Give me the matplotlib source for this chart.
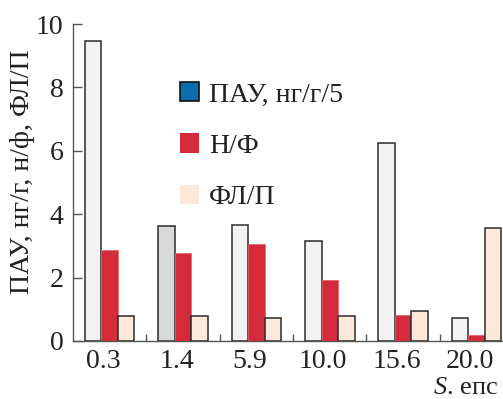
import matplotlib
matplotlib.use("Agg")
import numpy as np
import matplotlib.pyplot as plt
from matplotlib.patches import Patch

# === data ===
groups = ["0.3", "1.4", "5.9", "10.0", "15.6", "20.0"]
pau = [9.47, 3.63, 3.67, 3.15, 6.26, 0.74]      # ПАУ, нг/г/5
nf = [2.87, 2.77, 3.07, 1.91, 0.81, 0.19]       # Н/Ф
flp = [0.80, 0.80, 0.74, 0.80, 0.95, 3.57]      # ФЛ/П

plt.rcParams["font.family"] = ["Liberation Serif", "DejaVu Serif"]
plt.rcParams["mathtext.fontset"] = "custom"
plt.rcParams["mathtext.it"] = "Liberation Serif:italic"
plt.rcParams["mathtext.rm"] = "Liberation Serif"

fs = 20
edge = "#2b2b2b"
spine_c = "#555555"
txt_c = "#222222"

fig = plt.figure(figsize=(5.03, 3.99), dpi=100)
ax = fig.add_axes([73 / 503, 1 - 341 / 399, 429 / 503, 317 / 399])

x = np.arange(len(groups))
w = 0.225
pau_colors = ["#f2f2f2"] * len(groups)
pau_colors[1] = "#d9d9d9"
ax.bar(x - w, pau, w, color=pau_colors, edgecolor=edge, linewidth=1.1, zorder=3)
ax.bar(x, nf, w, color="#d42b3a", edgecolor="#e4606b", linewidth=0.5, zorder=3)
ax.bar(x + w, flp, w, color="#fde9da", edgecolor=edge, linewidth=1.1, zorder=3)

ax.set_xlim(-0.5, 5 + 1.5 * w + 0.01)
ax.set_ylim(0, 10)

for s in ["top", "right"]:
    ax.spines[s].set_visible(False)
for s in ["left", "bottom"]:
    ax.spines[s].set_color(spine_c)
    ax.spines[s].set_linewidth(1.0)

ax.set_yticks([0, 2, 4, 6, 8, 10])
ax.tick_params(axis="y", direction="in", length=6.5, width=1.0, color=spine_c,
               labelsize=fs, pad=7, labelcolor=txt_c)
ax.set_xticks(x - 0.09)
ax.set_xticklabels(groups)
ax.tick_params(axis="x", which="major", length=0, labelsize=fs, pad=6,
               labelcolor=txt_c)
ax.set_xticks(x[:-1] + 0.5, minor=True)
ax.tick_params(axis="x", which="minor", direction="in", length=5, width=1.0,
               color=spine_c)

fig.text(23 / 503, 1 - 172 / 399, "ПАУ, нг/г, н/ф, ФЛ/П", rotation=90,
         ha="center", va="center", fontsize=fs, color=txt_c)
fig.text(498 / 503, 1 - 394 / 399, "$S$. епс", ha="right", va="baseline",
         fontsize=19, color=txt_c)

handles = [
    Patch(facecolor="#0a6db0", edgecolor="#111111", linewidth=1.2),
    Patch(facecolor="#d42b3a", edgecolor="none"),
    Patch(facecolor="#fde9da", edgecolor="none"),
]
leg = ax.legend(handles, ["ПАУ, нг/г/5", "Н/Ф", "ФЛ/П"],
                loc="upper left", bbox_to_anchor=(180 / 503, 1 - 82 / 399),
                bbox_transform=fig.transFigure, frameon=False, fontsize=fs,
                handlelength=0.7, handleheight=0.7, handletextpad=0.35,
                labelspacing=0.93, borderpad=0, borderaxespad=0)
for t in leg.get_texts():
    t.set_color(txt_c)

fig.savefig("out.png", dpi=100)
